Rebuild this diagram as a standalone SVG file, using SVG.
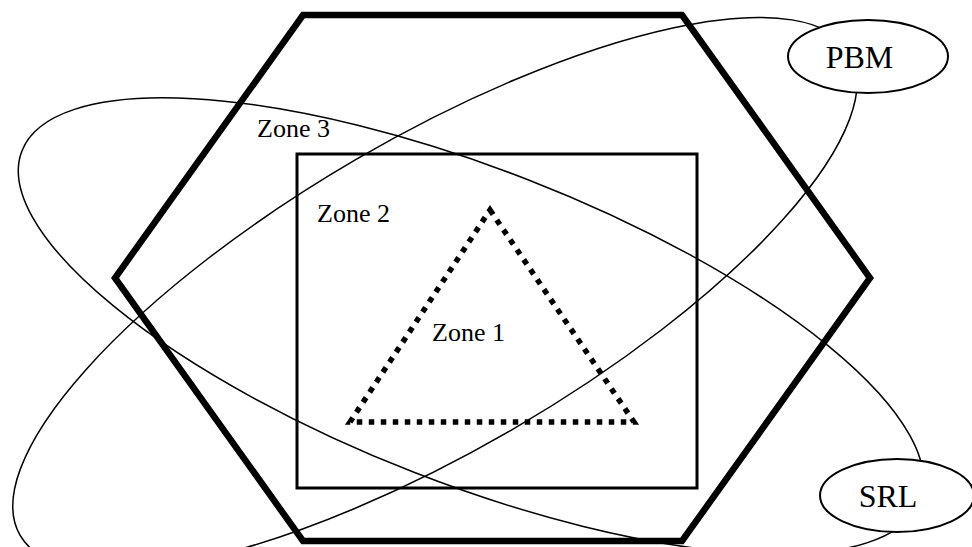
<svg xmlns="http://www.w3.org/2000/svg" width="972" height="547" viewBox="0 0 972 547">
<style>
.thin{fill:none;stroke:#000;stroke-width:1.5}
.lbl{font-family:"Liberation Serif","Times New Roman",serif;fill:#000}
.zone{font-size:26px}
.big{font-size:32px;text-anchor:middle}
.tag{fill:#fff;stroke:#000;stroke-width:2}
</style>
<rect width="972" height="547" fill="#fff"/>
<g id="regions">
<ellipse id="pbm-region" class="thin" cx="435" cy="294" rx="480" ry="156" transform="rotate(-30.2 435 294)"/>
<ellipse id="srl-region" class="thin" cx="471" cy="326" rx="482" ry="157" transform="rotate(21.3 471 326)"/>
</g>
<g id="zone3">
<polygon points="303,15 682,15 870,278 682,541 303,541 115,278" fill="none" stroke="#000" stroke-width="6.5" stroke-linejoin="miter"/>
<text class="lbl zone" x="257" y="137">Zone 3</text>
</g>
<g id="zone2">
<rect x="297" y="154" width="400" height="334" fill="none" stroke="#000" stroke-width="3"/>
<text class="lbl zone" x="317" y="222">Zone 2</text>
</g>
<g id="zone1">
<polygon points="490,210 634,422 350,422" fill="none" stroke="#000" stroke-width="5.5" stroke-dasharray="5.5 6.5"/>
<text class="lbl zone" x="432" y="341">Zone 1</text>
</g>
<g id="pbm">
<ellipse class="tag" cx="868" cy="56.5" rx="80" ry="36.5"/>
<text class="lbl big" x="859.5" y="68">PBM</text>
</g>
<g id="srl">
<ellipse class="tag" cx="897" cy="495.5" rx="77" ry="36.5"/>
<text class="lbl big" x="888" y="507">SRL</text>
</g>
</svg>
